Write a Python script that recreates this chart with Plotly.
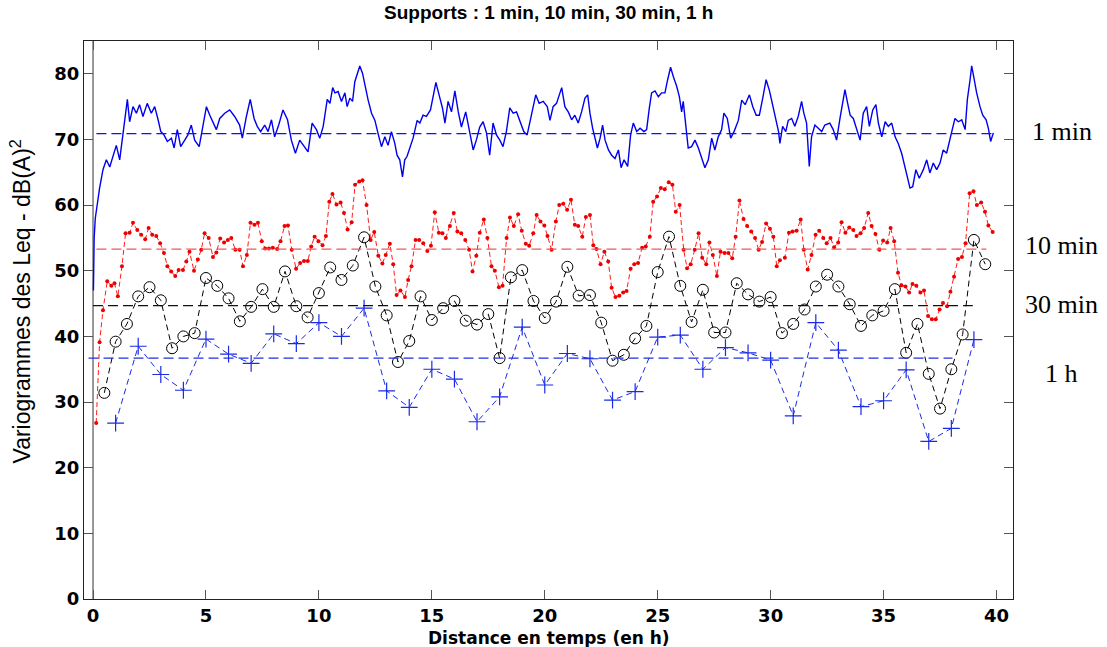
import plotly.graph_objects as go

# ---- 1 min support: lag (h) and variogram value ----
lag_1min = [0.017, 0.05, 0.10, 0.17, 0.29, 0.44, 0.59, 0.74, 0.88, 1.03, 1.18, 1.33, 1.43, 1.52, 1.62, 1.77, 1.92,
            2.06, 2.21, 2.40, 2.58, 2.73, 2.88, 3.00, 3.14, 3.29, 3.47, 3.59, 3.73, 3.88, 4.06, 4.20, 4.35,
            4.50, 4.70, 4.87, 5.02, 5.17, 5.31, 5.46, 5.61, 5.83, 6.05, 6.27, 6.49, 6.61, 6.79, 6.96, 7.13,
            7.27, 7.42, 7.60, 7.75, 7.90, 8.04, 8.22, 8.41, 8.61, 8.78, 8.96, 9.15, 9.30, 9.52, 9.70, 9.89,
            10.04, 10.19, 10.37, 10.49, 10.61, 10.71, 10.85, 11.00, 11.15, 11.25, 11.37, 11.49, 11.59, 11.69,
            11.81, 11.93, 12.03, 12.18, 12.33, 12.48, 12.62, 12.77, 12.92, 13.06, 13.21, 13.36, 13.46, 13.58,
            13.70, 13.80, 13.90, 14.02, 14.17, 14.35, 14.47, 14.61, 14.76, 14.94, 15.06, 15.18, 15.32, 15.47,
            15.58, 15.72, 15.87, 16.02, 16.17, 16.31, 16.50, 16.65, 16.83, 16.97, 17.12, 17.27, 17.42, 17.56,
            17.71, 17.86, 18.01, 18.15, 18.30, 18.45, 18.60, 18.75, 18.89, 19.07, 19.22, 19.37, 19.48, 19.60,
            19.75, 19.93, 20.11, 20.23, 20.37, 20.52, 20.75, 20.89, 21.04, 21.19, 21.33, 21.48, 21.63, 21.78,
            21.90, 22.00, 22.12, 22.22, 22.33, 22.45, 22.56, 22.67, 22.82, 22.96, 23.11, 23.26, 23.38, 23.51,
            23.67, 23.80, 23.92, 24.07, 24.22, 24.39, 24.51, 24.63, 24.73, 24.88, 25.03, 25.17, 25.32, 25.44,
            25.57, 25.69, 25.84, 25.96, 26.06, 26.13, 26.25, 26.35, 26.50, 26.65, 26.80, 26.94, 27.09, 27.24,
            27.39, 27.53, 27.68, 27.83, 27.93, 28.08, 28.23, 28.38, 28.57, 28.72, 28.87, 29.06, 29.21, 29.36,
            29.50, 29.65, 29.80, 29.95, 30.05, 30.20, 30.35, 30.41, 30.53, 30.67, 30.78, 30.93, 31.07, 31.22,
            31.37, 31.47, 31.59, 31.71, 31.81, 31.96, 32.11, 32.26, 32.40, 32.62, 32.77, 32.92, 33.07, 33.19,
            33.29, 33.41, 33.52, 33.66, 33.81, 33.96, 34.10, 34.25, 34.37, 34.52, 34.66, 34.77, 34.92, 35.07,
            35.21, 35.36, 35.51, 35.65, 35.80, 35.95, 36.07, 36.17, 36.29, 36.43, 36.58, 36.76, 36.91, 37.05,
            37.20, 37.35, 37.50, 37.64, 37.79, 37.94, 38.06, 38.16, 38.31, 38.46, 38.61, 38.71, 38.83, 38.90,
            39.00, 39.12, 39.27, 39.39, 39.54, 39.64, 39.74, 39.86]
gam_1min = [47.0, 55.0, 58.0, 60.0, 62.6, 65.4, 66.9, 65.8, 67.3, 69.1, 66.9, 71.0, 74.5, 76.1, 72.7, 75.0, 74.0,
            75.3, 73.5, 75.5, 74.0, 75.0, 73.0, 71.2, 70.7, 69.7, 70.2, 68.7, 71.5, 68.9, 69.9, 70.7, 72.2,
            69.9, 68.9, 72.5, 75.0, 73.7, 72.5, 71.5, 73.2, 74.0, 74.5, 73.5, 72.2, 70.2, 73.5, 76.1, 73.2,
            72.0, 71.2, 72.2, 71.2, 73.0, 70.4, 72.2, 74.5, 73.0, 69.9, 67.9, 69.9, 69.1, 68.1, 72.5, 71.5,
            70.2, 72.0, 76.1, 75.5, 77.9, 77.1, 77.3, 75.8, 77.1, 75.0, 76.3, 75.8, 78.8, 79.8,
            81.2, 80.1, 78.3, 76.0, 74.0, 72.9, 70.9, 68.9, 70.4, 69.1, 71.2, 69.4, 67.6, 66.9,
            64.3, 66.9, 67.4, 68.7, 70.2, 72.9, 72.5, 73.7, 73.5, 74.5, 76.5, 78.7, 76.8, 74.8,
            72.5, 75.8, 74.2, 77.4, 74.2, 71.9, 74.2, 71.5, 68.4, 69.9, 71.9, 72.7, 71.0, 67.6,
            72.5, 70.7, 69.9, 68.9, 71.2, 74.8, 74.0, 74.2, 72.9, 71.2, 70.7, 73.2, 75.0, 76.8,
            75.5, 75.8, 75.0, 72.9, 75.0, 75.5, 77.9, 75.0, 74.2, 73.0, 73.7, 72.5, 74.2, 76.3,
            76.8, 74.0, 71.7, 70.4, 68.7, 70.2, 72.2, 69.9, 68.4, 67.6, 67.1, 68.4, 65.7, 66.9,
            65.9, 70.7, 72.5, 71.2, 71.7, 71.2, 71.5, 74.8, 77.1, 77.4, 76.5, 77.1, 77.1, 79.1,
            81.0, 79.6, 78.1, 76.5, 74.2, 75.8, 72.0, 68.7, 68.9, 69.9, 68.7, 67.1, 65.7, 66.9,
            70.2, 68.4, 70.4, 71.5, 74.0, 73.2, 70.2, 71.2, 72.9, 76.0, 75.3, 76.8, 75.0, 73.7,
            73.7, 76.3, 79.1, 77.4, 75.8, 73.7, 71.2, 69.4, 72.0, 71.2, 72.9, 73.2, 72.0, 73.5,
            75.8, 74.0, 72.5, 65.9, 70.4, 72.2, 71.7, 71.2, 72.2, 72.5, 71.5, 69.9, 73.2, 75.3,
            77.6, 75.5, 73.7, 73.2, 71.5, 69.9, 74.0, 75.0, 72.0, 74.5, 75.3, 72.5, 70.4, 72.7,
            72.0, 72.5, 70.4, 69.4, 67.9, 65.9, 64.1, 62.6, 62.8, 65.4, 64.1, 65.4, 66.9, 64.9,
            66.4, 65.4, 66.4, 68.4, 67.9, 69.9, 71.5, 73.2, 72.7, 73.0, 71.5, 76.1, 79.1, 81.2,
            79.4, 77.1, 75.0, 73.7, 73.0, 71.7, 69.7, 71.0]

# ---- 10 min support ----
lag_10min = [0.14, 0.29, 0.44, 0.63, 0.81, 0.95, 1.10, 1.28, 1.44, 1.62, 1.77, 1.96, 2.13, 2.31, 2.46, 2.62,
             2.80, 2.97, 3.14, 3.29, 3.46, 3.64, 3.79, 3.98, 4.13, 4.27, 4.47, 4.64, 4.79, 4.94, 5.12, 5.31,
             5.46, 5.63, 5.80, 5.97, 6.12, 6.30, 6.49, 6.64, 6.81, 6.97, 7.15, 7.30, 7.47, 7.62, 7.79, 7.96,
             8.15, 8.30, 8.48, 8.63, 8.80, 8.99, 9.17, 9.34, 9.51, 9.66, 9.81, 9.98,
             10.16, 10.31, 10.46, 10.60, 10.78, 10.96, 11.11, 11.27, 11.45, 11.60, 11.79, 11.93, 12.11,
             12.29, 12.45, 12.63, 12.81, 12.96, 13.14, 13.29, 13.44, 13.61, 13.81, 13.95, 14.10, 14.28, 14.44,
             14.62, 14.80, 14.96, 15.13, 15.31, 15.47, 15.62, 15.80, 15.97, 16.13, 16.30, 16.48, 16.65, 16.80,
             16.97, 17.12, 17.30, 17.46, 17.64, 17.79, 17.97, 18.13, 18.31, 18.46, 18.63, 18.82, 18.98, 19.16,
             19.31, 19.49, 19.64, 19.81, 19.98, 20.12, 20.30,
             20.49, 20.64, 20.82, 20.99, 21.16, 21.33, 21.48, 21.66, 21.82, 22.00, 22.15, 22.29, 22.47, 22.64,
             22.81, 22.96, 23.13, 23.30, 23.47, 23.62, 23.80, 23.96, 24.13, 24.31, 24.47, 24.65, 24.80, 24.97,
             25.14, 25.31, 25.49, 25.65, 25.80, 25.97, 26.15, 26.30, 26.46, 26.64, 26.81, 26.97, 27.15, 27.29,
             27.44, 27.62, 27.78, 27.96, 28.13, 28.30, 28.45, 28.62, 28.80, 28.96, 29.14, 29.31, 29.47, 29.62,
             29.80, 29.97, 30.12, 30.27,
             30.41, 30.63, 30.81, 30.97, 31.15, 31.33, 31.47, 31.64, 31.81, 31.99, 32.15, 32.33, 32.48, 32.65,
             32.81, 32.99, 33.14, 33.31, 33.48, 33.66, 33.80, 33.98, 34.14, 34.32, 34.47, 34.64, 34.81, 34.98,
             35.16, 35.31, 35.47, 35.64, 35.79, 35.97, 36.13, 36.28, 36.45, 36.63, 36.79, 36.97, 37.14, 37.31,
             37.48, 37.63, 37.81, 37.96, 38.12, 38.30, 38.47, 38.63, 38.81, 38.98, 39.13, 39.32, 39.49, 39.64,
             39.83]
gam_10min = [26.8, 39.1, 44.0, 48.4, 47.7, 48.1, 46.1, 50.7, 55.7, 55.8, 57.3, 56.2, 55.5, 54.8, 56.5, 55.5,
             55.3, 54.2, 52.7, 50.7, 49.9, 49.2, 50.1, 50.1, 51.4, 52.9, 50.0, 51.7, 53.2, 55.7, 55.0, 52.1,
             52.8, 54.9, 54.3, 54.7, 55.0, 53.2, 53.2, 50.7, 52.4, 57.3, 57.0, 57.3, 54.5, 53.4, 53.4, 53.5,
             53.3, 54.5, 56.8, 56.9, 53.2, 50.3, 51.2, 51.5, 51.5, 53.7, 55.2, 54.5,
             53.9, 55.3, 60.5, 61.7, 60.1, 60.4, 58.8, 56.3, 57.4, 63.1, 63.6, 63.8, 60.0,
             54.7, 55.9, 52.3, 51.1, 52.4, 54.1, 51.0, 46.3, 47.0, 46.0, 48.6, 50.7, 54.7, 54.7,
             54.2, 53.0, 53.8, 58.9, 55.8, 55.7, 55.0, 56.8, 58.8, 56.0, 55.7, 54.7, 53.2, 49.9,
             52.3, 55.8, 57.8, 55.0, 50.7, 50.0, 47.5, 47.7, 55.0, 58.1, 56.8, 58.6, 56.1, 54.1,
             53.8, 55.7, 58.5, 57.5, 56.9, 55.3, 53.2,
             57.5, 60.0, 60.2, 59.3, 60.8, 57.0, 56.8, 55.2, 58.2, 58.5, 53.9, 53.3, 51.0, 52.9,
             51.4, 47.4, 46.0, 46.2, 46.7, 46.9, 50.3, 51.0, 51.2, 53.5, 53.7, 55.2, 60.5, 61.3,
             62.6, 62.4, 63.5, 63.1, 59.0, 60.0, 53.2, 50.4, 51.0, 53.2, 55.7, 52.0, 51.0, 54.3,
             52.4, 49.2, 52.9, 52.7, 52.7, 51.9, 55.2, 60.7, 57.9, 56.8, 56.0, 55.0, 53.2, 54.4,
             57.2, 56.4, 55.2, 50.7,
             51.6, 52.0, 55.8, 56.0, 56.1, 57.8, 53.2, 50.2, 52.4, 55.5, 56.1, 55.0, 54.2, 55.0,
             53.6, 54.3, 57.4, 55.8, 56.6, 56.2, 55.3, 55.7, 56.5, 58.8, 56.8, 55.6, 53.2, 54.6,
             54.3, 56.5, 54.5, 49.7, 47.8, 47.6, 46.7, 48.0, 47.7, 46.7, 47.0, 43.1, 42.6, 42.6,
             44.1, 45.1, 44.6, 46.8, 49.1, 51.8, 52.1, 54.2, 61.8, 62.1, 60.0, 60.4, 59.0, 56.9,
             55.9]

# ---- 30 min support ----
lag_30min = [k * 0.5 for k in range(1, 80)]
gam_30min = [31.4, 39.2, 41.9, 46.1, 47.5, 45.5, 38.2, 40.0, 40.5, 48.9, 47.7, 45.8, 42.3, 44.5, 47.2, 44.5,
             49.9, 44.6, 42.9, 46.6, 50.5, 48.6, 50.8, 55.1, 47.6, 43.2, 36.1, 39.3, 46.1, 42.5, 44.3, 45.4,
             42.4, 41.8, 43.4, 36.7, 49.0, 50.1, 45.4, 42.8, 45.3, 50.6, 46.2, 46.3, 42.1, 36.3, 37.2, 39.7,
             41.6, 49.8, 55.2, 47.7, 42.2, 47.1, 40.6, 40.6, 48.1, 46.4, 45.3, 46.0, 40.5, 41.9, 44.1, 47.6,
             49.4, 47.6, 44.9, 41.6, 43.2, 43.9, 47.2, 37.5, 41.9, 34.3, 29.0, 35.0, 40.3, 54.7, 51.0]

# ---- 1 h support ----
lag_1h = list(range(1, 40))
gam_1h = [26.8, 38.5, 34.2, 31.8, 39.6, 37.3, 35.9, 40.4, 38.9, 42.1, 40.0, 44.3, 31.7, 29.2, 35.0, 33.5,
          27.0, 30.8, 41.4, 32.6, 37.4, 36.6, 30.3, 31.6, 39.9, 40.2, 35.0, 38.3, 37.5, 36.4, 27.9, 42.1,
          37.9, 29.3, 30.2, 34.9, 24.0, 26.0, 39.5]

# ---- sill (variance) levels and their lag extents ----
sill_levels = [70.9, 53.3, 44.7, 36.7]
sill_start = [0.15, 0.15, 0.0, -0.2]
sill_end = [39.85, 39.55, 38.95, 38.05]
sill_colors = ["#1010f0", "#ee5a5a", "#111111", "#2030e0"]

support_labels = ["1 min", "10 min", "30 min", "1 h"]
label_levels = [71.2, 53.8, 44.8, 34.4]

x_ticks = list(range(0, 41, 5))
y_ticks = list(range(0, 81, 10))

fig = go.Figure()

# x = 0 reference line
fig.add_shape(type="line", xref="x", yref="paper", x0=0, x1=0, y0=0, y1=1,
              line=dict(color="#333333", width=1), layer="below")

fig.add_trace(go.Scatter(x=lag_1min, y=gam_1min, mode="lines",
                         line=dict(color="#0000ee", width=1.4)))

fig.add_trace(go.Scatter(x=lag_10min, y=gam_10min, mode="lines+markers",
                         line=dict(color="#ff1a1a", width=1, dash="5px,3px"),
                         marker=dict(symbol="circle", size=4, color="#ee0000")))

fig.add_trace(go.Scatter(x=lag_30min, y=gam_30min, mode="lines+markers",
                         line=dict(color="#000000", width=1, dash="6px,4px"),
                         marker=dict(symbol="circle-open", size=11,
                                     line=dict(color="#000000", width=1))))

fig.add_trace(go.Scatter(x=lag_1h, y=gam_1h, mode="lines+markers",
                         line=dict(color="#1a2ae6", width=1, dash="6px,4px"),
                         marker=dict(symbol="cross-thin-open", size=12,
                                     line=dict(color="#0010e0", width=1.2))))

for lvl, x0, x1, col in zip(sill_levels, sill_start, sill_end, sill_colors):
    fig.add_trace(go.Scatter(x=[x0, x1], y=[lvl, lvl], mode="lines",
                             line=dict(color=col, width=1.2, dash="10px,5px")))

for txt, lvl in zip(support_labels, label_levels):
    fig.add_annotation(text=txt, xref="paper", yref="y", x=1.0527, y=lvl,
                       xanchor="center", yanchor="middle", showarrow=False,
                       font=dict(family="Liberation Serif, Times New Roman, serif", size=26, color="black"))

fig.add_annotation(text="Supports : 1 min, 10 min, 30 min, 1 h", xref="paper", yref="paper",
                   x=0.5, y=1 + 28 / 557, xanchor="center", yanchor="middle", showarrow=False,
                   font=dict(family="Liberation Sans, Arial, sans-serif", size=19, weight="bold", color="black"))

fig.add_annotation(text="Distance en temps (en h)", xref="paper", yref="paper",
                   x=0.5, y=-38.5 / 557, xanchor="center", yanchor="middle", showarrow=False,
                   font=dict(family="DejaVu Sans, sans-serif", size=17, weight="bold", color="black"))

fig.add_annotation(text="Variogrammes des Leq - dB(A)<sup>2</sup>", xref="paper", yref="paper",
                   x=-63 / 929, y=(599 - 302) / 557, xanchor="center", yanchor="middle",
                   textangle=-90, showarrow=False,
                   font=dict(family="Liberation Sans, Arial, sans-serif", size=23, color="black"))

axis_common = dict(showline=True, linecolor="#222222", linewidth=1, mirror="allticks",
                   ticks="inside", ticklen=9, tickcolor="#555555", showgrid=False, zeroline=False,
                   tickfont=dict(family="DejaVu Sans, sans-serif", size=18, weight="bold", color="black"))

fig.update_xaxes(range=[-0.4, 40.73], tickvals=x_ticks, **axis_common)
fig.update_yaxes(range=[0, 85], tickvals=y_ticks, **axis_common)

fig.update_layout(width=1107, height=647, autosize=False, showlegend=False,
                  margin=dict(l=84, r=94, t=41, b=48),
                  paper_bgcolor="white", plot_bgcolor="white")

fig.write_html("out.html")
